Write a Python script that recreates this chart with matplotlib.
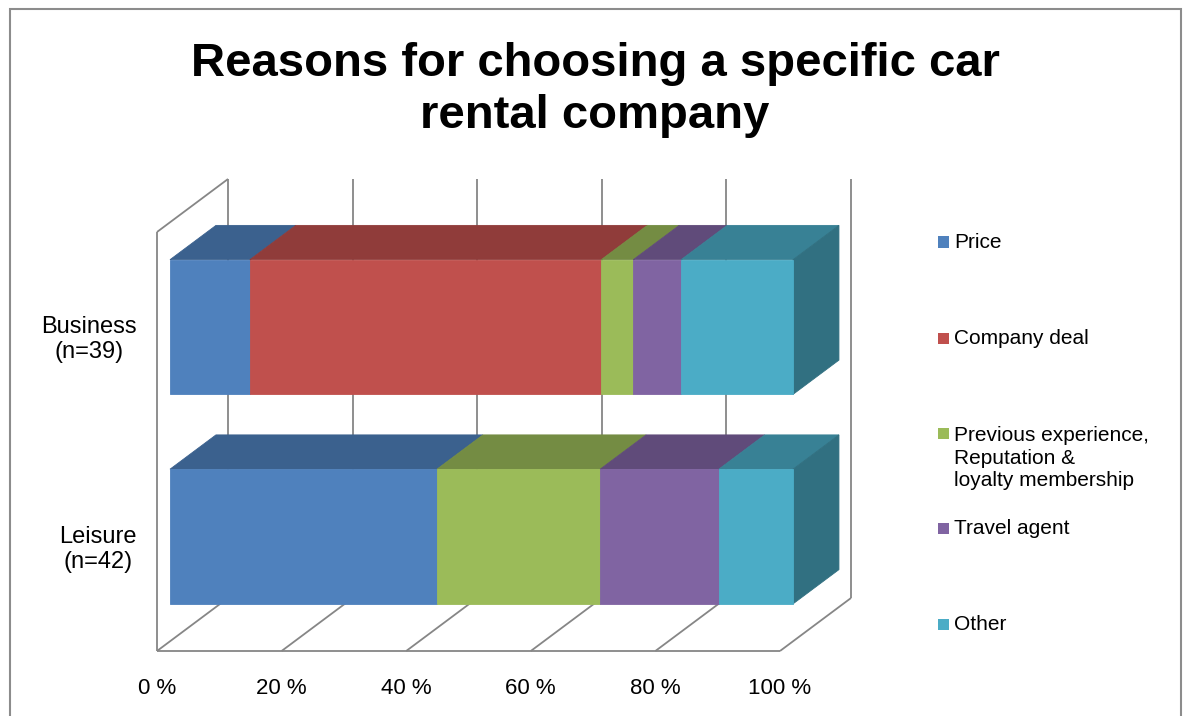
import numpy as np
import matplotlib.pyplot as plt
from matplotlib.patches import Polygon, Rectangle

plt.rcParams['font.family'] = ['Liberation Sans', 'DejaVu Sans']

title = 'Reasons for choosing a specific car\nrental company'
groups = ['Business\n(n=39)', 'Leisure\n(n=42)']
reasons = ['Price', 'Company deal',
           'Previous experience,\nReputation &\nloyalty membership',
           'Travel agent', 'Other']
business_counts = [5, 22, 2, 3, 7]
leisure_counts = [18, 0, 11, 8, 5]
ticks = [0, 20, 40, 60, 80, 100]
tick_labels = ['0 %', '20 %', '40 %', '60 %', '80 %', '100 %']

colors = ['#4F81BD', '#C0504D', '#9BBB59', '#8064A2', '#4BACC6']

# oblique depth vector (data units per unit of depth)
DX = 11.4
DY = 0.253
Z_FRONT = 0.183
Z_BACK = 0.83
BAR_H = 0.643
GRID = '#868686'


def shade(color, k):
    c = np.array(plt.matplotlib.colors.to_rgb(color))
    return tuple(c * k)


def proj(x, y, z):
    return (x + DX * z, y + DY * z)


def face(ax, pts, color):
    ax.add_patch(Polygon(pts, closed=True, fc=color, ec=color, lw=0.6,
                         clip_on=False, zorder=3))


def box(ax, x0, x1, yc, color, with_side):
    y0 = yc - BAR_H / 2
    y1 = yc + BAR_H / 2
    zf, zb = Z_FRONT, Z_BACK
    top = [proj(x0, y1, zf), proj(x1, y1, zf), proj(x1, y1, zb), proj(x0, y1, zb)]
    side = [proj(x1, y0, zf), proj(x1, y0, zb), proj(x1, y1, zb), proj(x1, y1, zf)]
    front = [proj(x0, y0, zf), proj(x1, y0, zf), proj(x1, y1, zf), proj(x0, y1, zf)]
    face(ax, top, shade(color, 0.75))
    if with_side:
        face(ax, side, shade(color, 0.65))
    face(ax, front, color)


def line3d(ax, pts):
    xy = np.array([proj(*p) for p in pts])
    ax.plot(xy[:, 0], xy[:, 1], color=GRID, lw=1.3, clip_on=False,
            solid_capstyle='butt', zorder=1)


fig = plt.figure(figsize=(11.86, 7.16), dpi=100)
W, H = 1186.0, 716.0
ax = fig.add_axes([157 / W, (H - 651) / H, 623 / W, 419 / H])
ax.set_xlim(0, 100)
ax.set_ylim(-0.5, 1.5)
ax.axis('off')

# walls and floor
for t in ticks:
    line3d(ax, [(t, -0.5, 1), (t, 1.5, 1)])
    line3d(ax, [(t, -0.5, 0), (t, -0.5, 1)])
line3d(ax, [(0, -0.5, 0), (100, -0.5, 0)])
line3d(ax, [(0, -0.5, 0), (0, 1.5, 0)])
line3d(ax, [(0, 1.5, 0), (0, 1.5, 1)])

# stacked bars, business on top; only the right end shows its side face
ypos = [1, 0]
for yc, counts in zip(ypos, [business_counts, leisure_counts]):
    pct = np.array(counts) / sum(counts) * 100
    last = max(i for i, v in enumerate(pct) if v > 0)
    left = 0
    for i, (v, c) in enumerate(zip(pct, colors)):
        if v > 0:
            box(ax, left, left + v, yc, c, i == last)
        left += v

for t, lab in zip(ticks, tick_labels):
    ax.annotate(lab, (t, -0.5), xytext=(0, -37), textcoords='offset pixels',
                ha='center', va='center', fontsize=16, annotation_clip=False)

for yc, g in zip(ypos, groups):
    ax.annotate(g, (0, yc), xytext=(-20, -3), textcoords='offset pixels',
                ha='right', va='center', multialignment='center',
                fontsize=17, linespacing=1.2, annotation_clip=False)

fig.text(595 / W, 1 - 90 / H, title, ha='center', va='center',
         fontsize=34, fontweight='bold', linespacing=1.22)

# legend
leg_y = [242, 338, 458, 528, 624]
for y, lab, c in zip(leg_y, reasons, colors):
    marker_y = y if '\n' not in lab else 433
    fig.add_artist(Rectangle((938 / W, 1 - (marker_y + 5.5) / H), 11 / W, 11 / H,
                             transform=fig.transFigure, fc=c, ec='none'))
    fig.text(954 / W, 1 - y / H, lab, ha='left', va='center', fontsize=15, linespacing=1.22)

# chart frame
fig.add_artist(Rectangle((10 / W, -0.05), 1171 / W, 1 - 9 / H + 0.05,
                         transform=fig.transFigure, fill=False, ec='#8c8c8c', lw=1.5))

fig.savefig('out.png', dpi=100)
